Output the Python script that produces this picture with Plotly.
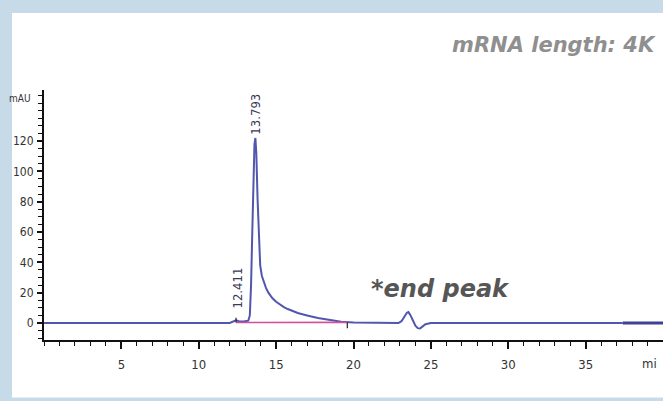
import plotly.graph_objects as go

# ---- data ----
time_min = [0, 5, 10, 12.0, 12.41, 12.6, 12.9, 13.2, 13.3, 13.38, 13.46, 13.54, 13.60, 13.66,
            13.72, 13.80, 13.88, 13.97, 14.08, 14.2, 14.35, 14.5, 14.75, 15.0, 15.25, 15.5, 15.75,
            16.0, 16.4, 17.0, 17.7, 18.5, 19.2, 20.0, 21.0, 22.0, 22.9, 23.1, 23.3, 23.45, 23.55,
            23.68, 23.85, 24.0, 24.15, 24.3, 24.45, 24.65, 25.0, 30.0, 35.0, 37.4]
absorb_mau = [0, 0, 0, 0, 1.8, 1.2, 1.0, 1.5, 5, 25, 60, 100, 118, 122,
              112, 82, 55, 38, 31, 27, 23, 20, 16.5, 14, 12.0, 10.5, 9.2,
              8.2, 6.6, 5.0, 3.3, 2.0, 0.9, 0.4, 0.1, 0, 0, 1.2, 4.5, 6.8, 7.2,
              5.2, 1.5, -1.8, -3.4, -3.6, -2.4, -0.8, 0, 0, 0, 0]
tail_time = [37.4, 40.0]
tail_mau = [0, 0]

baseline_time = [12.41, 19.6]
baseline_mau = [0.3, 0.4]

peak_labels = ["12.411", "13.793"]
label_pos_x = [12.5, 13.65]
label_pos_y = [23, 137.5]

end_peak_text = "*end peak"
title_text = "mRNA length: 4K"

y_tickvals = [0, 20, 40, 60, 80, 100, 120]
x_tickvals = [5, 10, 15, 20, 25, 30, 35]

line_col = "#5256ad"
pink_col = "#d0509c"
frame_col = "#c6dbe7"
narrow = "Liberation Sans Narrow, DejaVu Sans Condensed, sans-serif"

fig = go.Figure()
fig.add_trace(go.Scatter(x=time_min, y=absorb_mau, mode="lines",
                         line=dict(color=line_col, width=2), hoverinfo="skip"))
fig.add_trace(go.Scatter(x=tail_time, y=tail_mau, mode="lines",
                         line=dict(color="#3e4296", width=3), hoverinfo="skip"))
fig.add_trace(go.Scatter(x=baseline_time, y=baseline_mau, mode="lines",
                         line=dict(color=pink_col, width=1.6), hoverinfo="skip"))
# start / end markers of integration baseline
fig.add_trace(go.Scatter(x=[baseline_time[0], baseline_time[0]], y=[baseline_mau[0], 3.5],
                         mode="lines", line=dict(color="#222", width=1.2), hoverinfo="skip"))
fig.add_trace(go.Scatter(x=[baseline_time[1], baseline_time[1]], y=[baseline_mau[1], -3.5],
                         mode="lines", line=dict(color="#222", width=1.2), hoverinfo="skip"))

annotations = []
for lx, ly, txt in zip(label_pos_x, label_pos_y, peak_labels):
    annotations.append(dict(x=lx, y=ly, xref="x", yref="y", text=txt, showarrow=False,
                            textangle=-90, font=dict(family=narrow, size=13, color="#3a3a55")))
annotations.append(dict(x=-0.005, y=148, xref="paper", yref="y", text="mAU", showarrow=False,
                        xanchor="right", yanchor="middle", xshift=-8,
                        font=dict(family=narrow, size=10, color="#333")))
annotations.append(dict(x=40, y=0, xref="x", yref="paper", text="mi", showarrow=False,
                        xanchor="right", yanchor="top", xshift=-4, yshift=-14,
                        font=dict(family=narrow, size=13, color="#333")))
annotations.append(dict(x=21.0, y=22.5, xref="x", yref="y", text="<b><i>" + end_peak_text + "</i></b>",
                        showarrow=False, xanchor="left", yanchor="middle",
                        font=dict(family="DejaVu Sans, sans-serif", size=24, color="#565656")))
annotations.append(dict(x=1, y=1.18, xref="paper", yref="paper", text="<b><i>" + title_text + "</i></b>",
                        showarrow=False, xanchor="right", yanchor="middle", xshift=-5,
                        font=dict(family="DejaVu Sans, sans-serif", size=21, color="#8f8f8f")))

tickfont = dict(family=narrow, size=13, color="#333")

fig.update_layout(
    width=663, height=401,
    margin=dict(l=44, r=0, t=90, b=61),
    paper_bgcolor=frame_col,
    plot_bgcolor="white",
    showlegend=False,
    annotations=annotations,
    shapes=[dict(type="rect", xref="paper", yref="paper", x0=-0.0517, x1=1.01, y0=-0.23, y1=1.308,
                 fillcolor="white", line=dict(width=0), layer="below")],
    xaxis=dict(range=[0, 40], showgrid=False, zeroline=False, showline=True, linecolor="#111",
               linewidth=2, ticks="outside", ticklen=7, tickwidth=1.5, tickcolor="#111",
               tickvals=x_tickvals, tickfont=tickfont, ticklabelstandoff=4,
               minor=dict(dtick=1, tick0=0, ticks="outside", ticklen=4, tickwidth=1.2, tickcolor="#111")),
    yaxis=dict(range=[-11.2, 153.6], showgrid=False, zeroline=False, showline=True, linecolor="#111",
               linewidth=2, ticks="outside", ticklen=5, tickwidth=1.5, tickcolor="#111",
               tickvals=y_tickvals, tickfont=dict(family=narrow, size=12, color="#333"),
               ticklabelstandoff=1,
               minor=dict(dtick=5, tick0=0, ticks="outside", ticklen=4, tickwidth=1.2, tickcolor="#111")),
)

fig.write_html("out.html", config={"displayModeBar": False},
               post_script="document.body.style.margin='0';document.body.style.overflow='hidden';")
